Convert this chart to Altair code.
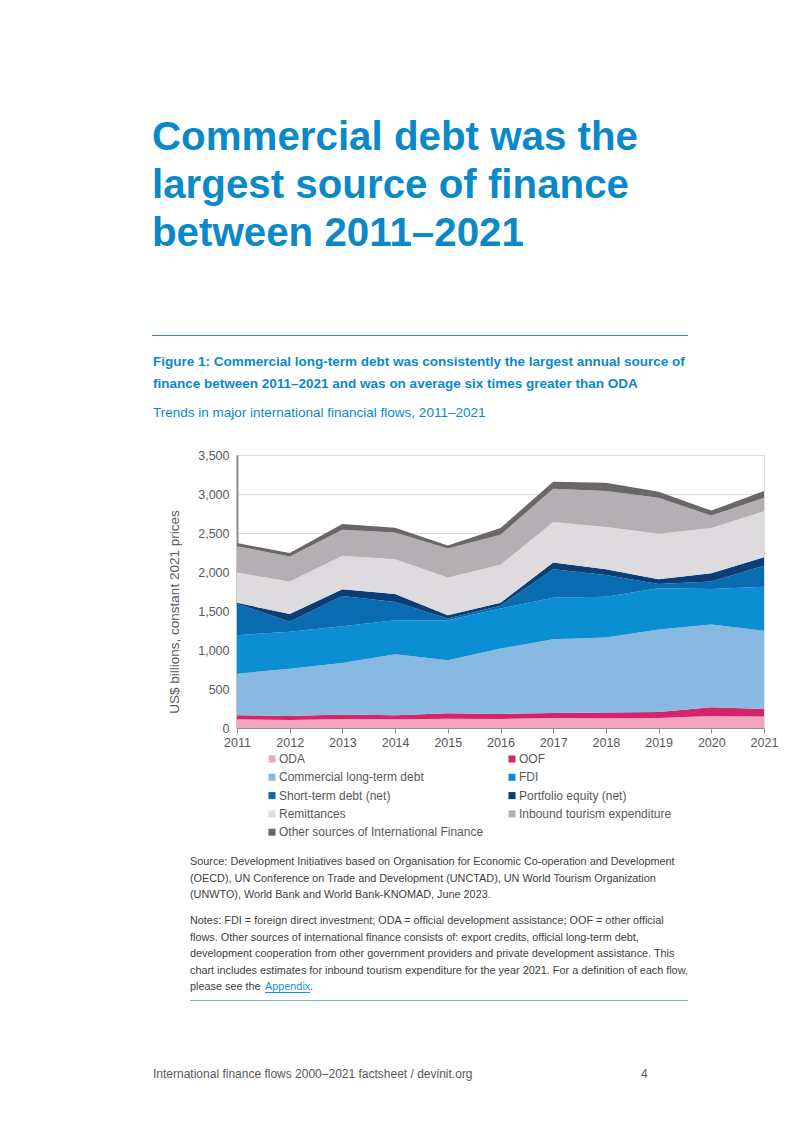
import altair as alt
import pandas as pd

# ---------------- data ----------------
years = list(range(2011, 2022))
series_names = [
    "ODA", "OOF", "Commercial long-term debt", "FDI", "Short-term debt (net)",
    "Portfolio equity (net)", "Remittances", "Inbound tourism expenditure",
    "Other sources of International Finance",
]
series_colors = ["#f2a5bd", "#d4246b", "#88b9e3", "#0c8ed3", "#0a6cb0",
                 "#0b3e78", "#dddbdd", "#b3afb2", "#6a676a"]

oda = [112, 103, 116, 112, 120, 116, 129, 125, 129, 155, 146]
oof = [51, 52, 56, 51, 69, 64, 64, 73, 77, 111, 99]
commercial = [533, 605, 661, 782, 679, 838, 945, 962, 1057, 1061, 1001]
fdi = [494, 474, 473, 438, 515, 515, 533, 524, 528, 455, 566]
short_term = [404, 129, 386, 232, 21, 35, 365, 279, 56, 95, 267]
portfolio = [12, 97, 86, 103, 43, 38, 86, 73, 60, 107, 111]
remittances = [388, 417, 429, 447, 481, 486, 519, 541, 584, 580, 589]
tourism = [337, 323, 336, 343, 372, 386, 426, 460, 460, 159, 172]
other = [40, 42, 73, 60, 40, 86, 90, 107, 77, 64, 86]

y_ticks = [0, 500, 1000, 1500, 2000, 2500, 3000, 3500]

all_series = [oda, oof, commercial, fdi, short_term, portfolio, remittances, tourism, other]
rows = []
for i, (name, vals) in enumerate(zip(series_names, all_series)):
    for yr, v in zip(years, vals):
        rows.append({"year": yr, "series": name, "value": v, "ord": i})
df = pd.DataFrame(rows)

# legend fills column by column: reorder so it reads row by row
legend_idx = [0, 2, 4, 6, 8, 1, 3, 5, 7]
legend_domain = [series_names[i] for i in legend_idx]
legend_range = [series_colors[i] for i in legend_idx]

# ---------------- styles ----------------
BLUE = "#0a89c9"
GREY = "#595959"
TXT = "#404040"
FONT = "Liberation Sans"

W, H = 527, 273

areas = alt.Chart(df).mark_area(opacity=1).encode(
    x=alt.X("year:Q", scale=alt.Scale(domain=[2011, 2021], nice=False, zero=False),
            axis=alt.Axis(values=years, format="d", title=None, grid=False,
                          domainColor="#8c8c8c", domainWidth=1, tickColor="#8c8c8c",
                          tickSize=5, labelColor=GREY, labelFontSize=12.5, labelFont=FONT,
                          labelPadding=3, labelFlush=False)),
    y=alt.Y("value:Q", stack="zero", scale=alt.Scale(domain=[0, 3500], nice=False),
            axis=alt.Axis(values=y_ticks, format=",.0f", title=None, grid=True,
                          gridColor="#d9d9d9", domainColor="#8c8c8c", domainWidth=2,
                          ticks=False, labelColor=GREY, labelFontSize=12.5, labelFont=FONT,
                          labelPadding=8, labelFlush=False)),
    color=alt.Color("series:N",
                    scale=alt.Scale(domain=legend_domain, range=legend_range),
                    sort=legend_domain,
                    legend=alt.Legend(orient="none", legendX=29, legendY=298, columns=2,
                                      title=None, symbolType="square", symbolSize=50,
                                      symbolStrokeWidth=0, labelFont=FONT,
                                      labelFontSize=12, labelColor=GREY, labelOffset=1,
                                      rowPadding=6.3, columnPadding=22, labelLimit=400)),
    order=alt.Order("ord:Q", sort="ascending"),
)


def text_layer(lines, x, y, size, color=TXT, weight="normal", line_height=None,
               angle=0, align="left", baseline="alphabetic"):
    kw = dict(font=FONT, fontSize=size, color=color, fontWeight=weight,
              align=align, baseline=baseline, text=lines)
    if line_height:
        kw["lineHeight"] = line_height
    if angle:
        kw["angle"] = angle
    return alt.Chart(pd.DataFrame({"a": [0]})).mark_text(**kw).encode(
        x=alt.value(x), y=alt.value(y))


def hrule(x1, x2, y, color, width=1):
    return alt.Chart(pd.DataFrame({"a": [0]})).mark_rule(
        color=color, strokeWidth=width).encode(
        x=alt.value(x1), x2=alt.value(x2), y=alt.value(y))


title_lines = ["Commercial debt was the", "largest source of finance", "between 2011\u20132021"]
caption_lines = ["Figure 1: Commercial long-term debt was consistently the largest annual source of",
                 "finance between 2011\u20132021 and was on average six times greater than ODA"]
subtitle = "Trends in major international financial flows, 2011\u20132021"
y_title = "US$ billions, constant 2021 prices"
source_lines = [
    "Source: Development Initiatives based on Organisation for Economic Co-operation and Development",
    "(OECD), UN Conference on Trade and Development (UNCTAD), UN World Tourism Organization",
    "(UNWTO), World Bank and World Bank-KNOMAD, June 2023.",
]
notes_lines = [
    "Notes: FDI = foreign direct investment; ODA = official development assistance; OOF = other official",
    "flows. Other sources of international finance consists of: export credits, official long-term debt,",
    "development cooperation from other government providers and private development assistance. This",
    "chart includes estimates for inbound tourism expenditure for the year 2021. For a definition of each flow,",
]
footer = "International finance flows 2000\u20132021 factsheet / devinit.org"

layers = [
    areas,
    text_layer(title_lines, -85, -305, 40.3, color=BLUE, weight="bold", line_height=48),
    hrule(-85, 451, -119.5, "#1f93d2"),
    text_layer(caption_lines, -84, -89.5, 13.5, color=BLUE, weight="bold", line_height=22),
    text_layer([subtitle], -84, -38, 13.5, color=BLUE),
    text_layer([y_title], -62, 157, 13.5, color=GREY, angle=270, align="center",
               baseline="middle"),
    text_layer(source_lines, -47, 410, 10.85, line_height=16.5),
    text_layer(notes_lines, -47, 469, 10.85, line_height=16.5),
    text_layer(["please see the"], -47, 535, 10.85),
    text_layer(["Appendix"], 28, 535, 10.85, color="#1a8fd6"),
    hrule(28, 73, 537.5, "#1a8fd6"),
    text_layer(["."], 73, 535, 10.85),
    hrule(-47, 451, 545.5, "#6cbce8"),
    text_layer([footer], -84, 623, 12, color=GREY),
    text_layer(["4"], 404, 623, 12, color=GREY),
]

chart = alt.layer(*layers).properties(
    width=W, height=H,
    padding={"left": 229, "top": 447, "right": 30, "bottom": 397},
    autosize=alt.AutoSizeParams(type="none"),
).configure_view(stroke=None).configure(background="white")

chart.save("out.html", embed_options={"renderer": "svg", "actions": False})
